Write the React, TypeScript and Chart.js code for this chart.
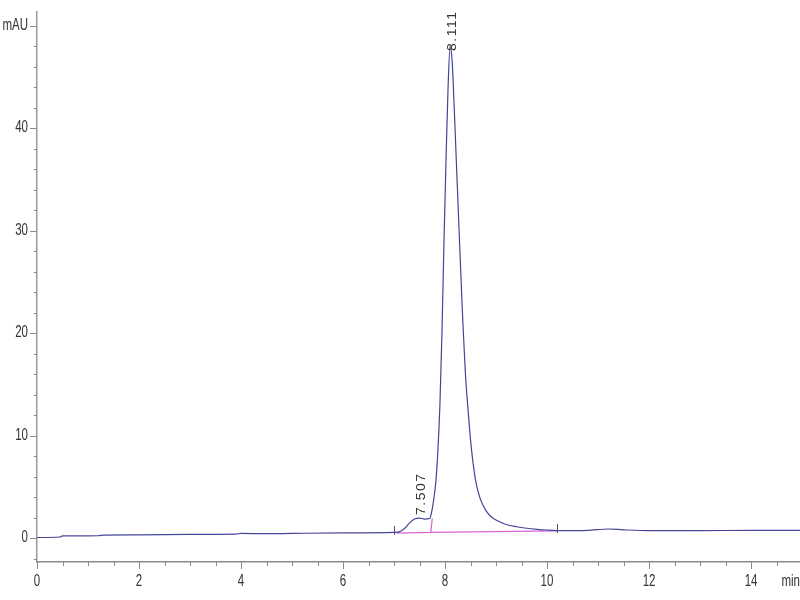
import React, { useEffect, useRef } from "react";
import { Chart, registerables } from "chart.js";

Chart.register(...registerables);

// Main trace (time in min, absorbance in mAU)
const traceTime = [
  0.0, 0.45, 0.5, 1.2, 1.3, 2.0, 3.0, 3.9, 4.0, 4.5, 5.0, 6.0, 7.0, 7.1, 7.2, 7.3, 7.4, 7.5, 7.6, 7.7,
  7.74, 7.78, 7.82, 7.86, 7.9, 7.94, 7.98, 8.02, 8.06, 8.1, 8.14, 8.18, 8.22, 8.26, 8.3, 8.35, 8.4,
  8.45, 8.5, 8.55, 8.6, 8.65, 8.7, 8.8, 8.9, 9.0, 9.2, 9.4, 9.6, 9.8, 10.0, 10.3, 10.8, 11.2, 11.5, 12.0,
  13.0, 14.0, 15.0,
];
const traceValue = [
  0.05, 0.1, 0.2, 0.22, 0.28, 0.3, 0.35, 0.38, 0.45, 0.42, 0.45, 0.5, 0.55, 0.6, 0.9, 1.45, 1.85, 1.95,
  1.85, 1.9, 2.6, 3.8, 5.5, 8.5, 13, 20, 29, 37, 44, 48, 46.5, 42, 37, 32, 27, 21, 16, 12.6, 9.6, 7.3,
  5.6, 4.5, 3.7, 2.7, 2.1, 1.75, 1.32, 1.1, 0.95, 0.85, 0.78, 0.72, 0.75, 0.88, 0.8, 0.72, 0.72, 0.75,
  0.75,
];

// Integration baselines (null = gap)
const baseTime = [7.05, 7.72, 7.75, 7.75, 7.72, 10.2];
const baseValue: (number | null)[] = [0.48, 0.55, 1.9, null, 0.55, 0.7];

// Peak annotations
const peakTime = [7.507, 8.111];
const peakHeight = [1.95, 48];
const peakLabel = ["7.507", "8.111"];

// Integration event markers
const eventTime = [7.0, 10.2];
const eventValue = [0.5, 0.68];

// Axis ticks
const xMajorTicks = [0, 2, 4, 6, 8, 10, 12, 14];
const xTickText = ["0", "2", "4", "6", "8", "10", "12", "14"];
const yMajorTicks = [0, 10, 20, 30, 40, 50];
const yTickText = ["0", "10", "20", "30", "40", "mAU"];
const xMinorStep = 0.5;
const yMinorStep = 2;

const FONT = "'Liberation Sans', Arial, sans-serif";
const SQUEEZE = 0.72;

export default function App() {
  const ref = useRef<HTMLCanvasElement>(null);
  useEffect(() => {
    const canvas = ref.current;
    if (!canvas) return;

    const drawSqueezed = (ctx: any, text: string, x: number, y: number, align: string) => {
      ctx.save();
      ctx.translate(x, y);
      ctx.scale(SQUEEZE, 1);
      ctx.textAlign = align;
      ctx.textBaseline = "middle";
      ctx.fillText(text, 0, 0);
      ctx.restore();
    };

    const decor = {
      id: "decor",
      beforeDatasetsDraw(chart: any) {
        const { ctx } = chart;
        const xs = chart.scales.x;
        const ys = chart.scales.y;
        const area = chart.chartArea;
        ctx.save();
        ctx.strokeStyle = "#8a8a8a";
        ctx.lineWidth = 1;
        for (let v = 0; v <= xs.max + 1e-9; v += xMinorStep) {
          const px = Math.round(xs.getPixelForValue(v)) + 0.5;
          const major = xMajorTicks.some((t) => Math.abs(t - v) < 1e-6);
          ctx.beginPath();
          ctx.moveTo(px, area.bottom);
          ctx.lineTo(px, area.bottom + (major ? 7 : 4));
          ctx.stroke();
        }
        for (let v = -2; v <= ys.max + 1e-9; v += yMinorStep) {
          const py = Math.round(ys.getPixelForValue(v)) + 0.5;
          const major = yMajorTicks.some((t) => Math.abs(t - v) < 1e-6);
          ctx.beginPath();
          ctx.moveTo(area.left, py);
          ctx.lineTo(area.left - (major ? 7 : 3), py);
          ctx.stroke();
        }
        ctx.strokeStyle = "#555";
        eventTime.forEach((t, i) => {
          const px = Math.round(xs.getPixelForValue(t)) + 0.5;
          const py = ys.getPixelForValue(eventValue[i]);
          ctx.beginPath();
          ctx.moveTo(px, py + 2);
          ctx.lineTo(px, py - 7);
          ctx.stroke();
        });
        // tick labels
        ctx.fillStyle = "#333333";
        ctx.font = `16px ${FONT}`;
        xMajorTicks.forEach((v, i) => {
          drawSqueezed(ctx, xTickText[i], xs.getPixelForValue(v), area.bottom + 20, "center");
        });
        yMajorTicks.forEach((v, i) => {
          drawSqueezed(ctx, yTickText[i], area.left - 9, ys.getPixelForValue(v), "right");
        });
        drawSqueezed(ctx, "min", 800, area.bottom + 20, "right");
        ctx.restore();
      },
      afterDatasetsDraw(chart: any) {
        const { ctx } = chart;
        const xs = chart.scales.x;
        const ys = chart.scales.y;
        ctx.save();
        ctx.fillStyle = "#333333";
        ctx.font = `14px ${FONT}`;
        (ctx as any).letterSpacing = "1.5px";
        peakTime.forEach((t, i) => {
          const px = xs.getPixelForValue(t);
          const py = ys.getPixelForValue(peakHeight[i]);
          ctx.save();
          ctx.translate(px + 2, py + (i === 1 ? 5 : -3));
          ctx.rotate(-Math.PI / 2);
          ctx.scale(1, 0.85);
          ctx.textAlign = "left";
          ctx.textBaseline = "middle";
          ctx.fillText(peakLabel[i], 0, 0);
          ctx.restore();
        });
        ctx.restore();
      },
    };

    const chart = new Chart(canvas, {
      type: "line",
      data: {
        datasets: [
          {
            data: baseTime.map((t, i) => ({ x: t, y: baseValue[i] })) as any,
            borderColor: "#d866d8",
            borderWidth: 1.3,
            pointRadius: 0,
            spanGaps: false,
            tension: 0,
            order: 2,
          },
          {
            data: traceTime.map((t, i) => ({ x: t, y: traceValue[i] })),
            borderColor: "#45459a",
            borderWidth: 1.2,
            pointRadius: 0,
            cubicInterpolationMode: "monotone",
            order: 1,
          },
        ],
      },
      options: {
        responsive: false,
        animation: false,
        layout: { padding: { top: 12, left: 0, right: 0, bottom: 0 } },
        plugins: { legend: { display: false }, tooltip: { enabled: false } },
        scales: {
          x: {
            type: "linear",
            min: 0,
            max: 14.96,
            afterBuildTicks: (s: any) => {
              s.ticks = xMajorTicks.map((v) => ({ value: v }));
            },
            afterFit: (s: any) => {
              s.height = 38;
            },
            grid: { display: false, drawTicks: false },
            border: { display: true, color: "#8a8a8a", width: 1.5 },
            ticks: { display: false },
          },
          y: {
            type: "linear",
            min: -2.34,
            max: 51.32,
            afterBuildTicks: (s: any) => {
              s.ticks = yMajorTicks.map((v) => ({ value: v }));
            },
            afterFit: (s: any) => {
              s.width = 37;
            },
            grid: { display: false, drawTicks: false },
            border: { display: true, color: "#9a9a9a", width: 1.5 },
            ticks: { display: false },
          },
        },
      },
      plugins: [decor],
    });
    return () => chart.destroy();
  }, []);

  return (
    <div style={{ position: "fixed", left: 0, top: 0, width: 800, height: 600, background: "#fff" }}>
      <canvas ref={ref} width={800} height={600} style={{ display: "block" }} />
    </div>
  );
}
